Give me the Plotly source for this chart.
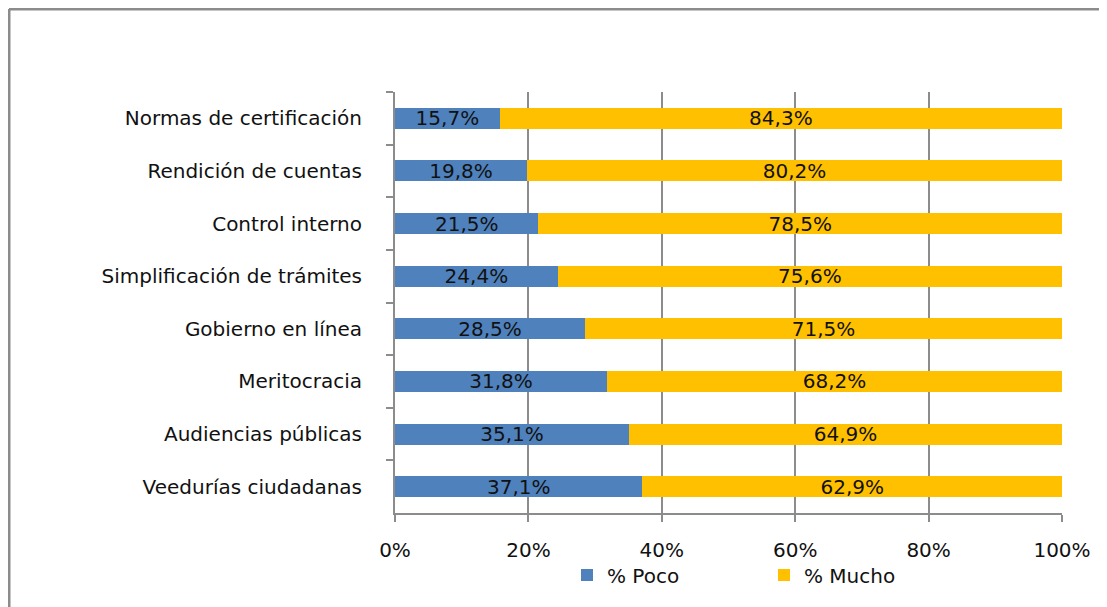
import plotly.graph_objects as go

# Datos (de arriba hacia abajo)
categorias = [
    "Normas de certificación",
    "Rendición de cuentas",
    "Control interno",
    "Simplificación de trámites",
    "Gobierno en línea",
    "Meritocracia",
    "Audiencias públicas",
    "Veedurías ciudadanas",
]
poco = [15.7, 19.8, 21.5, 24.4, 28.5, 31.8, 35.1, 37.1]
mucho = [84.3, 80.2, 78.5, 75.6, 71.5, 68.2, 64.9, 62.9]
ticks_x = [0, 20, 40, 60, 80, 100]
ticks_txt = ["0%", "20%", "40%", "60%", "80%", "100%"]

AZUL = "#4F81BD"
NARANJA = "#FFC000"
GRIS = "#8C8C8C"
TEXTO = "#111111"
FUENTE = "DejaVu Sans"

# la página añade 8px de margen al cuerpo, así que se compensa aquí
W, H = 1099, 599
L, R, T, B = 387, 45, 84, 94
pw, ph = W - L - R, H - T - B

fig = go.Figure()
for nombre, valores, color in [("% Poco", poco, AZUL), ("% Mucho", mucho, NARANJA)]:
    fig.add_trace(
        go.Bar(
            x=valores,
            y=categorias,
            orientation="h",
            name=nombre,
            marker_color=color,
            marker_line_width=0,
            texttemplate="%{x:.1f}%",
            textposition="inside",
            insidetextanchor="middle",
            constraintext="none",
            textfont=dict(family=FUENTE, size=20, color=TEXTO),
        )
    )

fig.update_xaxes(
    range=[0, 100],
    tickmode="array",
    tickvals=ticks_x,
    ticktext=ticks_txt,
    showgrid=True,
    gridcolor=GRIS,
    gridwidth=2,
    showline=True,
    linecolor=GRIS,
    linewidth=2,
    ticks="outside",
    ticklen=7,
    tickwidth=2,
    tickcolor=GRIS,
    ticklabelstandoff=11,
    zeroline=False,
    tickfont=dict(family=FUENTE, size=20, color=TEXTO),
    fixedrange=True,
)
fig.update_yaxes(
    autorange="reversed",
    showline=True,
    linecolor=GRIS,
    linewidth=2,
    ticks="outside",
    tickson="boundaries",
    ticklen=7,
    tickwidth=2,
    tickcolor=GRIS,
    ticklabelstandoff=27,
    showgrid=False,
    tickfont=dict(family=FUENTE, size=20, color=TEXTO),
    fixedrange=True,
)

# Marco gris (solo izquierda y arriba visibles)
fx = (1 - L) / pw
fy = 1 + (T - 1) / ph
fig.add_shape(type="line", xref="paper", yref="paper", x0=fx, x1=fx, y0=fy, y1=-1,
              line=dict(color=GRIS, width=3))
fig.add_shape(type="line", xref="paper", yref="paper", x0=fx, x1=2, y0=fy, y1=fy,
              line=dict(color=GRIS, width=3))

fig.update_layout(
    width=W,
    height=H,
    barmode="stack",
    bargap=0.6,
    separators=",.",
    paper_bgcolor="white",
    plot_bgcolor="white",
    margin=dict(l=L, r=R, t=T, b=B),
    showlegend=True,
    legend=dict(
        orientation="h",
        x=(559 - L) / pw,
        xanchor="left",
        y=(T + ph - 567) / ph,
        yanchor="middle",
        entrywidth=152,
        entrywidthmode="pixels",
        bgcolor="rgba(0,0,0,0)",
        font=dict(family=FUENTE, size=20, color=TEXTO),
        traceorder="normal",
    ),
)

fig.write_html("out.html")
